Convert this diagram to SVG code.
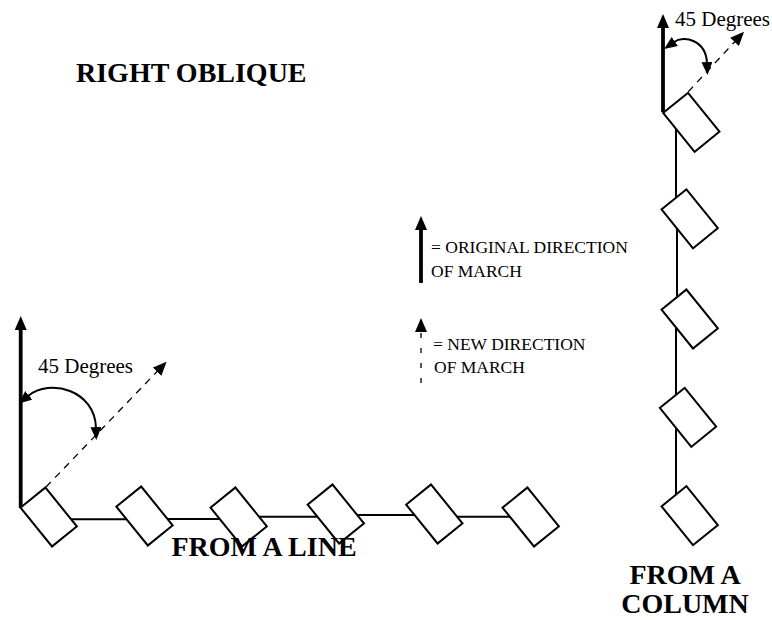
<svg xmlns="http://www.w3.org/2000/svg" width="772" height="620" viewBox="0 0 772 620">
<style>
.box{fill:#fff;stroke:#000;stroke-width:2}
.ln{fill:none;stroke:#000;stroke-width:2}
.thick{fill:none;stroke:#000;stroke-width:3.8}
.dash{fill:none;stroke:#000;stroke-width:1.3;stroke-dasharray:7 6}
.arc{fill:none;stroke:#000;stroke-width:2}
.t{font-family:"Liberation Serif","Times New Roman",serif;fill:#000}
.h{font-family:"Liberation Serif","Times New Roman",serif;font-weight:bold;font-size:28px;fill:#000}
</style>
<defs>
<marker id="ah" viewBox="0 0 14 12" markerWidth="14" markerHeight="12" refX="1" refY="6" orient="auto-start-reverse" markerUnits="userSpaceOnUse">
<path d="M0,0 L14,6 L0,12 z" fill="#000"/>
</marker>
<marker id="ahs" viewBox="0 0 13 11" markerWidth="13" markerHeight="11" refX="1" refY="5.5" orient="auto-start-reverse" markerUnits="userSpaceOnUse">
<path d="M0,0 L13,5.5 L0,11 z" fill="#000"/>
</marker>
</defs>
<rect width="772" height="620" fill="#fff"/>
<g id="connectors">
<path class="ln" d="M49,519.3 H145 M145,519 H239 M239,516.7 H336 M336,515 H434 M434,516.7 H531"/>
<path class="ln" d="M676,122 V219 M677,219 V319 M676,319 V515"/>
<line class="thick" x1="20.7" y1="508" x2="20.7" y2="329" marker-end="url(#ah)"/>
<line class="dash" x1="46" y1="487" x2="157.6" y2="371" marker-end="url(#ah)"/>
<path class="arc" d="M28,396 C50,378 95,390 96,428" marker-start="url(#ahs)" marker-end="url(#ahs)"/>
<line class="thick" x1="663" y1="112" x2="663" y2="27" marker-end="url(#ah)"/>
<line class="dash" x1="688.3" y1="91.7" x2="735.2" y2="41.2" marker-end="url(#ah)"/>
<path class="arc" d="M674,42 C684,35 706,40 707,63" marker-start="url(#ahs)" marker-end="url(#ahs)"/>
<line class="thick" x1="421" y1="283" x2="421" y2="229" marker-end="url(#ah)"/>
<line class="ln" x1="421" y1="383" x2="421" y2="331" style="stroke-width:1.3;stroke-dasharray:5 10" marker-end="url(#ah)"/>
</g>
<g id="line-soldiers">
<g id="l1"><rect class="box" x="-25" y="-16" width="50" height="32" transform="translate(48.7,517) rotate(51)"/></g>
<g id="l2"><rect class="box" x="-25" y="-16" width="50" height="32" transform="translate(144.5,516) rotate(51)"/></g>
<g id="l3"><rect class="box" x="-25" y="-16" width="50" height="32" transform="translate(238.7,517) rotate(51)"/></g>
<g id="l4"><rect class="box" x="-25" y="-16" width="50" height="32" transform="translate(335.8,514) rotate(51)"/></g>
<g id="l5"><rect class="box" x="-25" y="-16" width="50" height="32" transform="translate(434.3,514) rotate(51)"/></g>
<g id="l6"><rect class="box" x="-25" y="-16" width="50" height="32" transform="translate(530.7,517) rotate(51)"/></g>
</g>
<g id="column-soldiers">
<g id="c1"><rect class="box" x="-25" y="-16" width="50" height="32" transform="translate(691.3,122.3) rotate(51)"/></g>
<g id="c2"><rect class="box" x="-25" y="-16" width="50" height="32" transform="translate(689.7,218.8) rotate(51)"/></g>
<g id="c3"><rect class="box" x="-25" y="-16" width="50" height="32" transform="translate(689.7,319) rotate(51)"/></g>
<g id="c4"><rect class="box" x="-25" y="-16" width="50" height="32" transform="translate(688,417.3) rotate(51)"/></g>
<g id="c5"><rect class="box" x="-25" y="-16" width="50" height="32" transform="translate(689.7,515.7) rotate(51)"/></g>
</g>
<g id="labels">
<text class="h" x="76" y="82">RIGHT OBLIQUE</text>
<text class="t" x="38" y="373" font-size="21">45 Degrees</text>
<text class="t" x="675" y="26" font-size="21">45 Degrees</text>
<text class="t" x="431" y="252.7" font-size="17.5">= ORIGINAL DIRECTION</text>
<text class="t" x="431" y="276.7" font-size="17.5">OF MARCH</text>
<text class="t" x="433" y="350" font-size="17.5">= NEW DIRECTION</text>
<text class="t" x="434" y="373.3" font-size="17.5">OF MARCH</text>
<text class="h" x="264" y="556" text-anchor="middle">FROM A LINE</text>
<text class="h" x="685" y="584" text-anchor="middle">FROM A</text>
<text class="h" x="685" y="613" text-anchor="middle">COLUMN</text>
</g>
</svg>
